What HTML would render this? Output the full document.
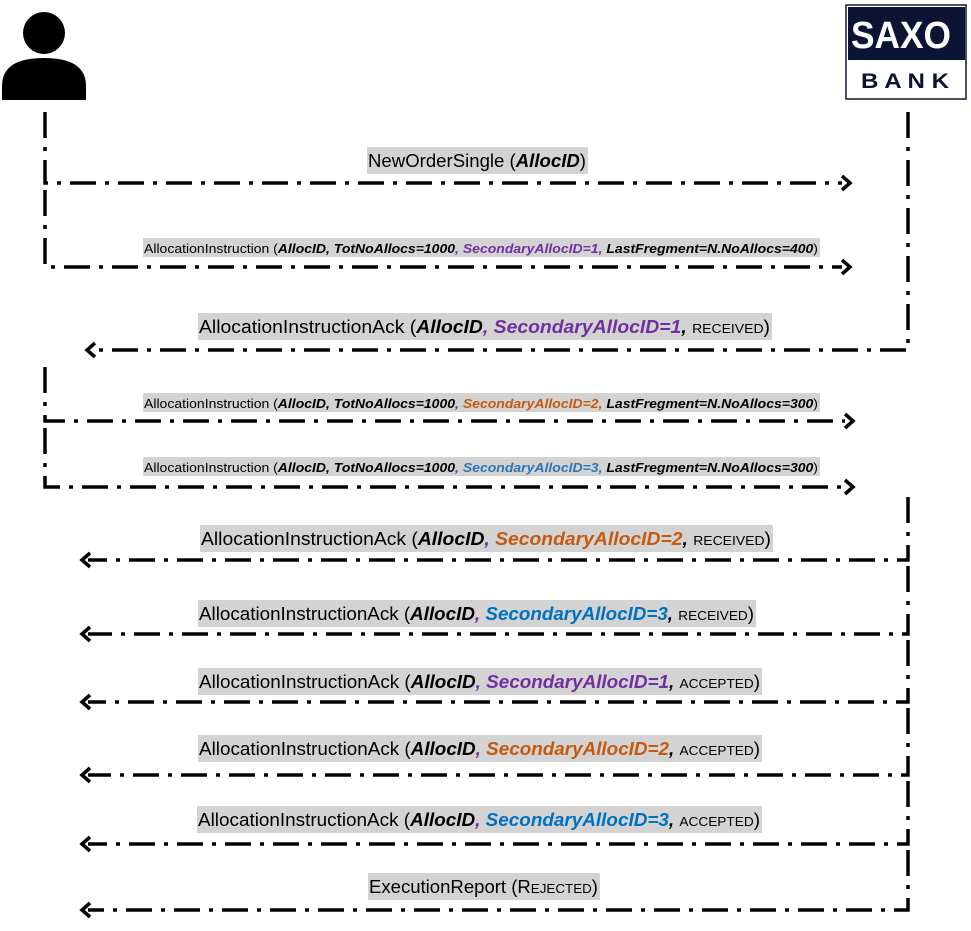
<!DOCTYPE html>
<html><head><meta charset="utf-8"><style>
html,body{margin:0;padding:0;background:#fff;width:971px;height:931px;overflow:hidden}
svg{display:block}
text{font-family:"Liberation Sans",sans-serif}
.bi{font-weight:bold;font-style:italic}
</style></head><body>
<svg width="971" height="931" viewBox="0 0 971 931" xmlns="http://www.w3.org/2000/svg">
<!-- person -->
<ellipse cx="44" cy="33" rx="21" ry="21" fill="#000"/>
<path d="M2,100 L2,86 Q2,58 44,58 Q86,58 86,86 L86,100 Z" fill="#000"/>
<!-- logo -->
<rect x="846" y="5" width="120" height="94" fill="#fff" stroke="#0b1533" stroke-width="1.5"/>
<rect x="848" y="7" width="117" height="53" fill="#0b1533"/>
<text x="901" y="48" fill="#fff" font-size="38" font-weight="bold" text-anchor="middle" textLength="100" lengthAdjust="spacingAndGlyphs">SAXO</text>
<text x="905" y="88" fill="#0b1533" font-size="21" font-weight="bold" text-anchor="middle" textLength="88" lengthAdjust="spacingAndGlyphs">B A N K</text>

<g fill="none" stroke="#000" stroke-width="3.5" stroke-dasharray="26 9 4 9">
<path d="M45,112 V183 H842"/>
<path d="M45,190 V267 H842"/>
<path d="M908,112 V350 H92"/>
<path d="M45,367 V421 H845"/>
<path d="M45,428 V487 H845"/>
<path d="M908,497 V560 H88"/>
<path d="M908,566 V634 H88"/>
<path d="M908,640 V702 H88"/>
<path d="M908,708 V775 H88"/>
<path d="M908,781 V844 H88"/>
<path d="M908,850 V910 H88"/>
</g>
<g fill="none" stroke="#000" stroke-width="3.5">
<polyline points="842,176 850,183 842,190"/>
<polyline points="842,260 850,267 842,274"/>
<polyline points="845,414 853,421 845,428"/>
<polyline points="845,480 853,487 845,494"/>
<polyline points="95,343 87,350 95,357"/>
<polyline points="90,553 82,560 90,567"/>
<polyline points="90,627 82,634 90,641"/>
<polyline points="90,695 82,702 90,709"/>
<polyline points="90,768 82,775 90,782"/>
<polyline points="90,837 82,844 90,851"/>
<polyline points="90,903 82,910 90,917"/>
</g>

<g fill="#d3d3d3">
<rect x="367" y="147" width="221" height="27"/>
<rect x="143" y="238" width="677" height="19"/>
<rect x="198" y="313" width="574" height="27"/>
<rect x="143" y="393" width="677" height="19"/>
<rect x="143" y="457" width="677" height="19"/>
<rect x="200" y="525" width="573" height="27"/>
<rect x="198" y="600" width="558" height="27"/>
<rect x="198" y="668" width="564" height="27"/>
<rect x="198" y="735" width="564" height="27"/>
<rect x="197" y="806" width="565" height="27"/>
<rect x="368" y="873" width="232" height="27"/>
</g>

<text x="368" y="167" font-size="18" textLength="218" lengthAdjust="spacingAndGlyphs">NewOrderSingle (<tspan class="bi">AllocID</tspan>)</text>

<text x="144" y="253" font-size="13" textLength="674" lengthAdjust="spacingAndGlyphs">AllocationInstruction (<tspan class="bi">AllocID, TotNoAllocs=1000</tspan><tspan class="bi" fill="#7030a0">, SecondaryAllocID=1,</tspan><tspan class="bi"> LastFregment=N.NoAllocs=400</tspan>)</text>
<text x="144" y="408" font-size="13" textLength="674" lengthAdjust="spacingAndGlyphs">AllocationInstruction (<tspan class="bi">AllocID, TotNoAllocs=1000</tspan><tspan class="bi" fill="#7030a0">,</tspan><tspan class="bi" fill="#c55a11"> SecondaryAllocID=2,</tspan><tspan class="bi"> LastFregment=N.NoAllocs=300</tspan>)</text>
<text x="144" y="472" font-size="13" textLength="674" lengthAdjust="spacingAndGlyphs">AllocationInstruction (<tspan class="bi">AllocID, TotNoAllocs=1000</tspan><tspan class="bi" fill="#7030a0">,</tspan><tspan class="bi" fill="#2e75b6"> SecondaryAllocID=3,</tspan><tspan class="bi"> LastFregment=N.NoAllocs=300</tspan>)</text>

<text x="199" y="333" font-size="18" textLength="571" lengthAdjust="spacingAndGlyphs">AllocationInstructionAck (<tspan class="bi">AllocID</tspan><tspan class="bi" fill="#7030a0">, SecondaryAllocID=1</tspan><tspan class="bi">, </tspan><tspan font-size="13">RECEIVED</tspan>)</text>
<text x="201" y="545" font-size="18" textLength="570" lengthAdjust="spacingAndGlyphs">AllocationInstructionAck (<tspan class="bi">AllocID</tspan><tspan class="bi" fill="#7030a0">, </tspan><tspan class="bi" fill="#c55a11">SecondaryAllocID=2</tspan><tspan class="bi">, </tspan><tspan font-size="13">RECEIVED</tspan>)</text>
<text x="199" y="620" font-size="18" textLength="555" lengthAdjust="spacingAndGlyphs">AllocationInstructionAck (<tspan class="bi">AllocID</tspan><tspan class="bi" fill="#7030a0">, </tspan><tspan class="bi" fill="#0070c0">SecondaryAllocID=3</tspan><tspan class="bi">, </tspan><tspan font-size="13">RECEIVED</tspan>)</text>
<text x="199" y="688" font-size="18" textLength="561" lengthAdjust="spacingAndGlyphs">AllocationInstructionAck (<tspan class="bi">AllocID</tspan><tspan class="bi" fill="#7030a0">, SecondaryAllocID=1</tspan><tspan class="bi">, </tspan><tspan font-size="13">ACCEPTED</tspan>)</text>
<text x="199" y="755" font-size="18" textLength="561" lengthAdjust="spacingAndGlyphs">AllocationInstructionAck (<tspan class="bi">AllocID</tspan><tspan class="bi" fill="#7030a0">, </tspan><tspan class="bi" fill="#c55a11">SecondaryAllocID=2</tspan><tspan class="bi">, </tspan><tspan font-size="13">ACCEPTED</tspan>)</text>
<text x="198" y="826" font-size="18" textLength="562" lengthAdjust="spacingAndGlyphs">AllocationInstructionAck (<tspan class="bi">AllocID</tspan><tspan class="bi" fill="#7030a0">, </tspan><tspan class="bi" fill="#0070c0">SecondaryAllocID=3</tspan><tspan class="bi">, </tspan><tspan font-size="13">ACCEPTED</tspan>)</text>
<text x="369" y="893" font-size="18" textLength="229" lengthAdjust="spacingAndGlyphs">ExecutionReport (R<tspan font-size="13">EJECTED</tspan>)</text>
</svg>
</body></html>
